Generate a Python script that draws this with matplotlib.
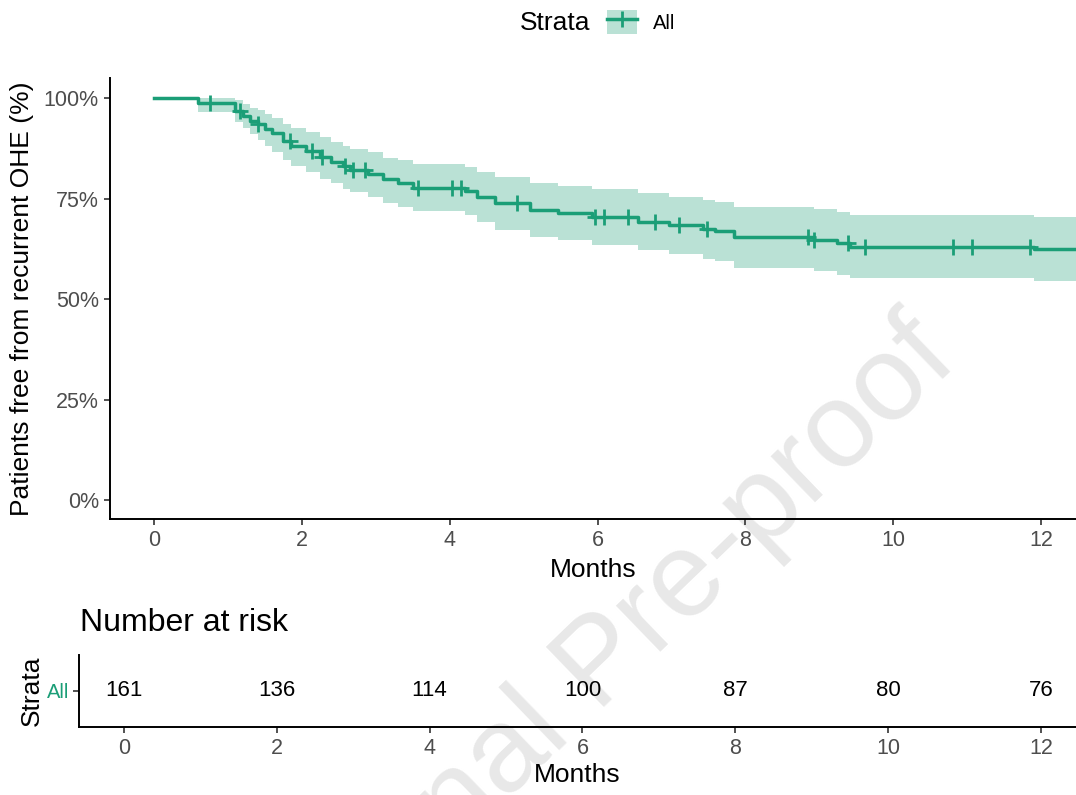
import numpy as np
import matplotlib.pyplot as plt
from matplotlib.patches import Patch
from matplotlib.lines import Line2D
from matplotlib.legend_handler import HandlerTuple

plt.rcParams['font.family'] = ['Liberation Sans', 'DejaVu Sans']

# Kaplan-Meier steps (months, % free, CI upper, CI lower)
step_t = [0, 0.6, 1.1, 1.2, 1.3, 1.4, 1.5, 1.6, 1.75, 1.85, 2.05, 2.25, 2.4,
          2.55, 2.65, 2.9, 3.1, 3.3, 3.5, 4.21, 4.37, 4.61, 5.09, 5.47, 5.93,
          6.55, 6.96, 7.43, 7.59, 7.84, 8.92, 9.24, 9.42, 11.9, 12.6]
surv = [100, 98.8, 96.8, 95.6, 94.4, 93.6, 92.4, 91.2, 89.4, 88.0, 86.8, 85.4,
        84.2, 83.0, 82.2, 81.0, 79.8, 78.9, 77.6, 76.9, 75.4, 73.9, 72.1, 71.4,
        70.4, 69.2, 68.4, 67.4, 66.9, 65.4, 64.7, 63.9, 62.9, 62.4, 62.4]
upper = [100, 100, 99.5, 98.5, 97.5, 97.0, 96.0, 95.0, 93.5, 92.5, 91.5, 90.2,
         89.2, 88.0, 87.3, 86.5, 85.2, 84.5, 83.6, 82.9, 81.6, 80.3, 78.9, 78.2,
         77.3, 76.3, 75.5, 74.7, 74.2, 73.0, 72.4, 71.6, 70.9, 70.4, 70.4]
lower = [100, 96.5, 94.0, 92.5, 91.0, 89.5, 88.0, 86.5, 84.5, 83.0, 81.5, 80.0,
         78.8, 77.5, 76.6, 75.5, 74.0, 73.0, 71.8, 70.9, 69.2, 67.3, 65.4, 64.6,
         63.5, 62.2, 61.2, 60.0, 59.4, 57.8, 57.0, 56.1, 55.2, 54.6, 54.6]

# censoring times (months)
cens_t = [0.76, 1.16, 1.4, 1.84, 2.14, 2.27, 2.58, 2.69, 2.85, 3.57, 4.03,
          4.15, 4.91, 5.97, 6.08, 6.41, 6.78, 7.1, 7.48, 8.85, 8.92, 9.38,
          9.61, 10.8, 11.06, 11.85]

# number at risk table
risk_t = [0, 2, 4, 6, 8, 10, 12]
risk_n = [161, 136, 114, 100, 87, 80, 76]

green = '#1B9E77'
tick_grey = '#4D4D4D'

fig = plt.figure(figsize=(10.76, 7.95), dpi=100)

# watermark, behind everything
fig.text(602/1076, 1-665/795, 'Journal Pre-proof', fontsize=87, color='#E8E8E8',
         rotation=44, ha='center', va='center', rotation_mode='anchor',
         zorder=-1)

# ---- main survival plot
ax = fig.add_axes([110/1076, 1-519/795, 1-110/1076, (519-78)/795])
ax.set_facecolor('none')
st = np.array(step_t)
ax.fill_between(st, lower, upper, step='post', color=green, alpha=0.3, lw=0)
ax.step(st, surv, where='post', color=green, lw=2.5)
idx = np.searchsorted(st, cens_t, side='right') - 1
ax.plot(cens_t, np.array(surv)[idx], ls='none', marker='+', ms=11, mew=2,
        color=green)

ax.set_xlim(-0.595, 12.47)
ax.set_ylim(-4.7, 105)
ax.set_xticks(risk_t)
ax.set_yticks([0, 25, 50, 75, 100])
ax.set_yticklabels(['0%', '25%', '50%', '75%', '100%'])
for s in ['top', 'right']:
    ax.spines[s].set_visible(False)
for s in ['left', 'bottom']:
    ax.spines[s].set_linewidth(1.4)
ax.tick_params(length=4, width=1.2, color='#333333', labelsize=15.5,
               labelcolor=tick_grey, pad=4)
ax.set_xlabel('Months', fontsize=19, labelpad=5)
ax.set_ylabel('Patients free from recurrent OHE (%)', fontsize=19, labelpad=7)

# legend on top
fig.text(520/1076, 1-23/795, 'Strata', fontsize=19, ha='left', va='center')
h = (Patch(facecolor=green, alpha=0.3, lw=0),
     Line2D([], [], color=green, lw=2.5, marker='+', ms=11, mew=2))
fig.legend([h], ['All'], handler_map={tuple: HandlerTuple(ndivide=1)},
           loc='center left', bbox_to_anchor=(607/1076, 1-22/795),
           frameon=False, fontsize=14.5, borderpad=0, borderaxespad=0,
           handlelength=1.5, handleheight=1.5, handletextpad=0.8)

# ---- risk table
ax2 = fig.add_axes([79/1076, 1-727/795, 1-79/1076, (727-655)/795])
ax2.set_facecolor('none')
for t, n in zip(risk_t, risk_n):
    ax2.text(t, 0.5, str(n), ha='center', va='center', fontsize=16)
ax2.set_xlim(-0.589, 12.46)
ax2.set_ylim(0, 1)
ax2.set_xticks(risk_t)
ax2.set_yticks([0.5])
ax2.set_yticklabels(['All'])
for s in ['top', 'right']:
    ax2.spines[s].set_visible(False)
for s in ['left', 'bottom']:
    ax2.spines[s].set_linewidth(1.4)
ax2.tick_params(length=4, width=1.2, color='#333333', labelsize=15.5,
                labelcolor=tick_grey, pad=4)
ax2.tick_params(axis='y', labelsize=14.5, labelcolor=green, pad=3)
ax2.set_xlabel('Months', fontsize=19, labelpad=3)
ax2.set_ylabel('Strata', fontsize=19, labelpad=2)
fig.text(80/1076, 1-623/795, 'Number at risk', fontsize=23, ha='left',
         va='center')

fig.savefig('out.png', dpi=100)
